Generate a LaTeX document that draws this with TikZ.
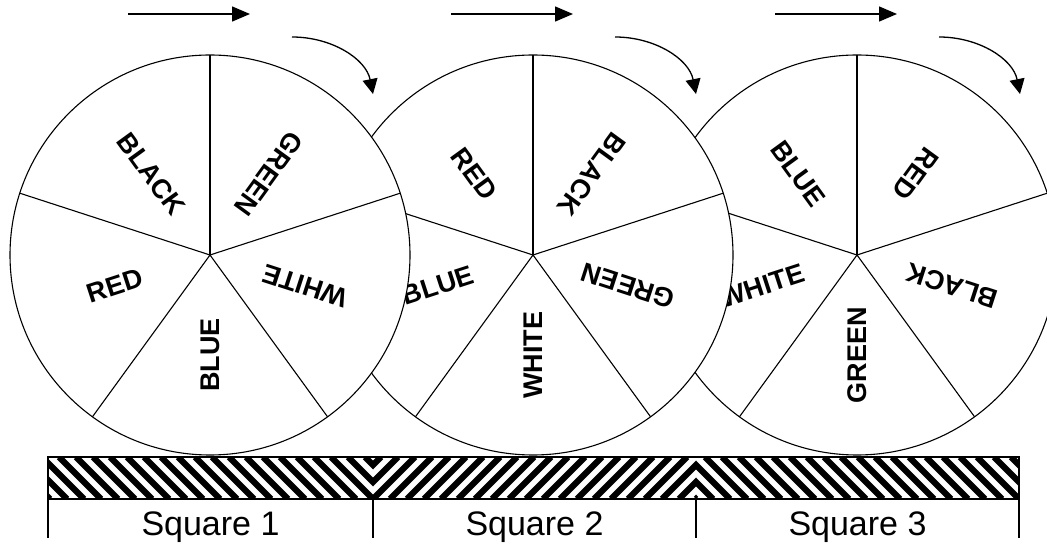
\documentclass[tikz,border=0pt]{standalone}
\usepackage{fontspec}
\setmainfont{Liberation Sans}
\usetikzlibrary{arrows.meta}

\tikzset{
  rim/.style={draw=black, line width=1.1pt},
  spoke/.style={line width=1.1pt},
  colourlabel/.style={font=\fontsize{27}{30}\selectfont\bfseries, inner sep=0pt},
  squarelabel/.style={font=\fontsize{34}{38}\selectfont, anchor=base},
  moveto/.style={-{Triangle[length=18pt,width=15pt]}, line width=1.5pt},
  turn/.style={-{Triangle[length=15pt,width=15pt]}, line width=1.3pt},
  stripe/.style={line width=6.3pt},
}

% name, x of centre, labels at 54, 126, 198, 270, 342 degrees
\newcommand{\colourwheel}[7]{%
  \coordinate (#1) at (#2,289);
  \fill[white] (#1) circle (200);
  \foreach \a in {18,90,162,234,306} \draw[spoke] (#1) -- ++(\a:200);
  \draw[rim] (#1) circle (200);
  \foreach \a/\t [count=\i] in {54/#3,126/#4,198/#5,270/#6,342/#7}
    \node[colourlabel, rotate=\a+180] (#1-\i) at ([shift={(\a:100)}]#1) {\t};
}

\begin{document}
\begin{tikzpicture}[x=1pt, y=1pt]
  \useasboundingbox (0,0) rectangle (1047,544);
  \clip (0,0) rectangle (1047,544);

  % wheels, the left one in front
  \colourwheel{w3}{857}{RED}{BLUE}{WHITE}{GREEN}{BLACK}
  \colourwheel{w2}{533}{BLACK}{RED}{BLUE}{WHITE}{GREEN}
  \colourwheel{w1}{210}{GREEN}{BLACK}{RED}{BLUE}{WHITE}

  % motion arrows
  \foreach \w in {w1,w2,w3} {
    \coordinate (\w-s) at ([shift={(-82,241)}]\w);
    \coordinate (\w-e) at ([shift={(40,241)}]\w);
    \coordinate (\w-cs) at ([shift={(82,218)}]\w);
    \coordinate (\w-ce) at ([shift={(163,161)}]\w);
    \draw[moveto] (\w-s) -- (\w-e);
    \draw[turn] (\w-cs) .. controls ([shift={(122,218)}]\w) and ([shift={(156,196)}]\w) .. (\w-ce);
  }

  % hatched track
  \begin{scope}
    \clip (48,45) rectangle (373,87);
    \foreach \k in {-3,...,22} \draw[stripe] (373-\k*17,45) -- ++(-42,42);
  \end{scope}
  \begin{scope}
    \clip (373,45) rectangle (696,87);
    \foreach \k in {-3,...,22} \draw[stripe] (373+\k*17,45) -- ++(42,42);
  \end{scope}
  \begin{scope}
    \clip (696,45) rectangle (1019,87);
    \foreach \k in {-3,...,22} \draw[stripe] (696+\k*17,45) -- ++(-42,42);
  \end{scope}
  \draw[line width=1.1pt] (48,45) rectangle (1019,87);

  % squares
  \foreach \x in {48,373,696,1019} \draw[line width=1.1pt] (\x,45) -- (\x,6);
  \node[squarelabel] (sq1) at (210.5,9) {Square 1};
  \node[squarelabel] (sq2) at (534.5,9) {Square 2};
  \node[squarelabel] (sq3) at (857.5,9) {Square 3};
\end{tikzpicture}
\end{document}
